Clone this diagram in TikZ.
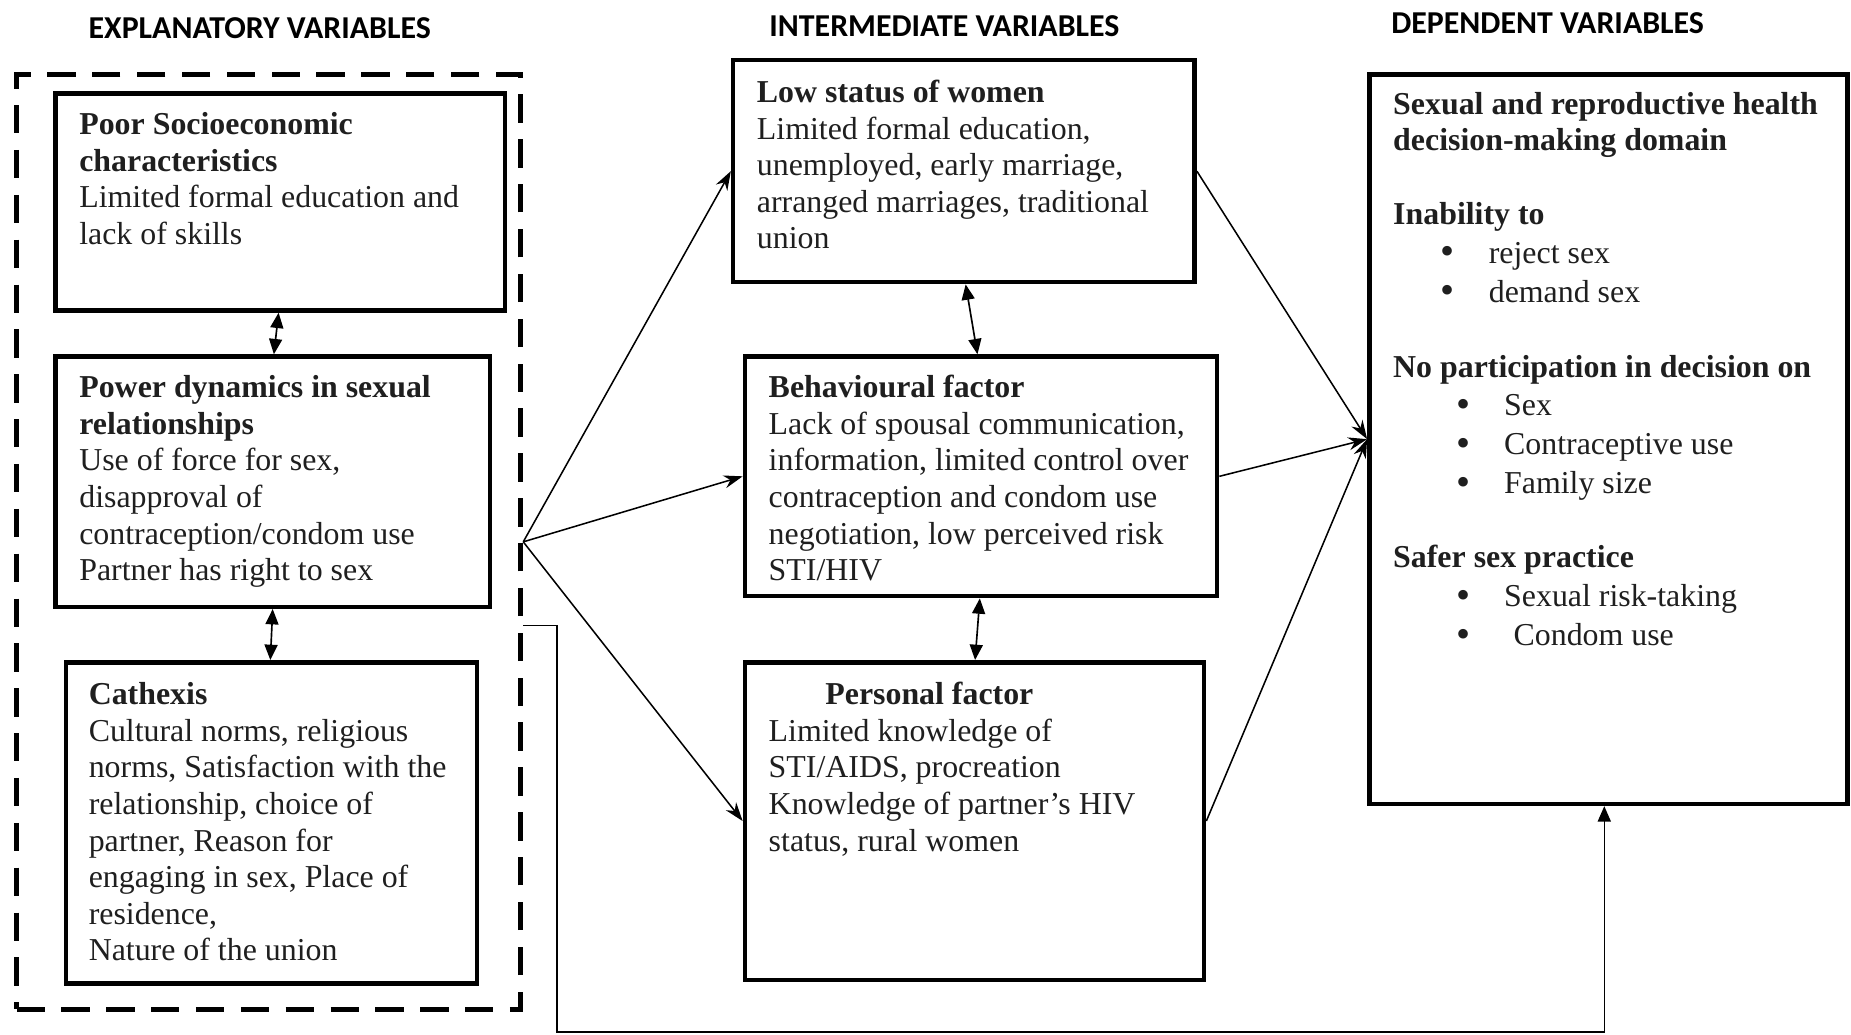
\documentclass[tikz,border=0pt]{standalone}
\usepackage{fontspec}
\setmainfont{Liberation Serif}
\newfontfamily\hdrfont{Carlito}
\usetikzlibrary{arrows.meta,calc}
\newcommand{\bul}{\smash{\raisebox{-1.5pt}{\fontsize{34}{31}\selectfont\textbullet}}}
\begin{document}
\begin{tikzpicture}[x=1pt,y=-1pt,
  hdr/.style={font=\hdrfont\bfseries\fontsize{27}{31}\selectfont, inner sep=0},
  boxnode/.style={draw, line width=3.8pt, inner sep=0, rectangle},
  txt/.style={font=\fontsize{27}{31}\selectfont, align=left, inner sep=0, anchor=north west, text=black!88},
  conn/.style={line width=1.3pt},
  dbl/.style={line width=1.4pt, {Triangle[length=13pt,width=11pt]}-{Triangle[length=13pt,width=11pt]}},
  fan/.style={line width=1.3pt, -{Stealth[length=16pt,width=11pt]}}
]
\useasboundingbox (0,0) rectangle (1568,876);

% headers
\node[hdr] (h1) at (220,24) {EXPLANATORY VARIABLES};
\node[hdr] (h2) at (800,22) {INTERMEDIATE VARIABLES};
\node[hdr] (h3) at (1311,20) {DEPENDENT VARIABLES};

% dashed group
\node[draw, line width=4.5pt, dash pattern=on 24pt off 14pt, inner sep=0,
      minimum width=427pt, minimum height=792pt] (expl) at (227.5,459) {};

% explanatory boxes
\node[boxnode, minimum width=381pt, minimum height=184pt] (b1) at (237.5,171) {};
\node[boxnode, minimum width=368pt, minimum height=212pt] (b2) at (231,408) {};
\node[boxnode, minimum width=348pt, minimum height=272pt] (b3) at (230,697) {};

\node[txt] (t1) at (67,92) {\strut\textbf{Poor Socioeconomic}\\\textbf{characteristics}\\Limited formal education and\\lack of skills};
\node[txt] (t2) at (67,315) {\strut\textbf{Power dynamics in sexual}\\\textbf{relationships}\\Use of force for sex,\\disapproval of\\contraception/condom use\\Partner has right to sex};
\node[txt] (t3) at (75,575) {\strut\textbf{Cathexis}\\Cultural norms, religious\\norms, Satisfaction with the\\relationship, choice of\\partner, Reason for\\engaging in sex, Place of\\residence,\\Nature of the union};

% intermediate boxes
\node[boxnode, minimum width=391pt, minimum height=188pt] (b4) at (816.5,145) {};
\node[boxnode, minimum width=400pt, minimum height=203pt] (b5) at (831,403.5) {};
\node[boxnode, minimum width=389pt, minimum height=269pt] (b6) at (825.5,695.5) {};

\node[txt] (t4) at (641,65) {\strut\textbf{Low status of women}\\Limited formal education,\\unemployed, early marriage,\\arranged marriages, traditional\\union};
\node[txt] (t5) at (651,315) {\strut\textbf{Behavioural factor}\\Lack of spousal communication,\\information, limited control over\\contraception and condom use\\negotiation, low perceived risk\\STI/HIV};
\node[txt] (t6) at (651,575) {\strut\hspace*{48pt}\textbf{Personal factor}\\Limited knowledge of\\STI/AIDS, procreation\\Knowledge of partner’s HIV\\status, rural women};

% dependent box
\node[boxnode, minimum width=405pt, minimum height=618pt] (dep) at (1362.5,372) {};
\node[txt] (t7) at (1180,75) {\strut\textbf{Sexual and reproductive health}\\
\textbf{decision-making domain}\\[31pt]
\textbf{Inability to}\\[2pt]
\hspace*{40pt}\makebox[41pt][l]{\bul}reject sex\\[2pt]
\hspace*{40pt}\makebox[41pt][l]{\bul}demand sex\\[33pt]
\textbf{No participation in decision on}\\[1pt]
\hspace*{54pt}\makebox[40pt][l]{\bul}Sex\\[2pt]
\hspace*{54pt}\makebox[40pt][l]{\bul}Contraceptive use\\[2pt]
\hspace*{54pt}\makebox[40pt][l]{\bul}Family size\\[32pt]
\textbf{Safer sex practice}\\[2pt]
\hspace*{54pt}\makebox[40pt][l]{\bul}Sexual risk-taking\\[2pt]
\hspace*{54pt}\makebox[48pt][l]{\bul}Condom use};

% double arrows
\draw[dbl] ([xshift=-1.5pt]b1.south) -- ([xshift=1pt]b2.north);
\draw[dbl] (b2.south) -- ([xshift=-1pt]b3.north);
\draw[dbl] ([xshift=1.5pt]b4.south) -- ([xshift=-3pt]b5.north);
\draw[dbl] ([xshift=-1pt]b5.south) -- ([xshift=0.5pt]b6.north);

% fan arrows
\draw[fan] (expl.east) -- (b4.west);
\draw[fan] (expl.east) -- (b5.west);
\draw[fan] (expl.east) -- (b6.west);

\draw[fan] (b4.east) -- (dep.west);
\draw[fan] (b5.east) -- (dep.west);
\draw[fan] (b6.east) -- (dep.west);

% bottom connector
\coordinate (c1) at (472,530);
\coordinate (c2) at (472,874);
\coordinate (c3) at (1359,874);
\draw[conn, -{Triangle[length=13pt,width=11pt]}] (expl.east |- c1) -- (c1) -- (c2) -- (c3) -- (c3 |- dep.south);
\end{tikzpicture}
\end{document}
